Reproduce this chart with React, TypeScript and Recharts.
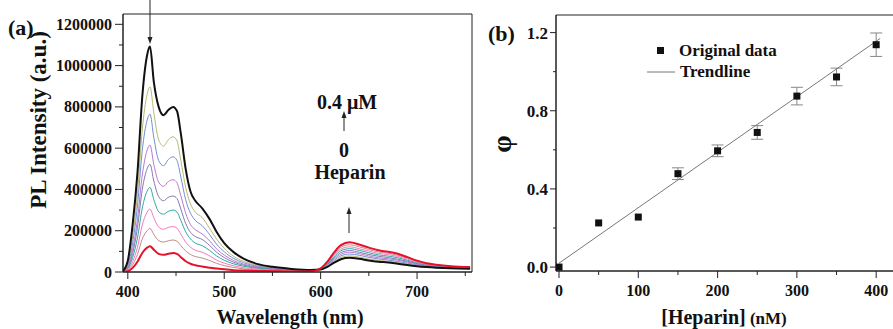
import React from "react";
import { LineChart, Line, XAxis, YAxis, ReferenceArea, ScatterChart, Scatter, ErrorBar } from "recharts";

const FONT = '"Liberation Serif", "Times New Roman", serif';

// ---- panel (a): PL spectra, intensity in units of 1000 a.u.
const wavelengths = [395, 400, 405, 410, 415, 420, 423, 427, 432, 437, 442, 447, 451, 455, 460, 465, 470, 477, 485, 492, 500, 510, 520, 535, 550, 570, 590, 600, 607, 614, 621, 630, 640, 650, 660, 670, 680, 690, 700, 710, 720, 735, 755];

const heparin0 = [5, 55, 230, 480, 850, 1050, 1092, 920, 800, 760, 785, 800, 780, 670, 500, 390, 345, 310, 255, 195, 140, 95, 65, 38, 25, 15, 10, 12, 25, 45, 62, 69, 64, 56, 50, 46, 40, 34, 28, 24, 21, 18, 16];
const heparin1 = [3, 40, 170, 380, 690, 860, 897, 770, 640, 610, 640, 655, 635, 540, 410, 330, 290, 265, 210, 160, 115, 75, 52, 32, 21, 13, 9, 12, 27, 50, 70, 78, 72, 63, 56, 52, 46, 38, 31, 26, 23, 19, 17];
const heparin2 = [2, 32, 140, 320, 590, 735, 765, 650, 540, 515, 545, 558, 540, 460, 350, 285, 250, 225, 180, 135, 98, 65, 45, 28, 18, 11, 8, 13, 30, 56, 78, 87, 81, 71, 63, 58, 51, 43, 35, 29, 25, 21, 18];
const heparin3 = [2, 25, 110, 255, 470, 590, 615, 520, 435, 415, 438, 447, 432, 370, 285, 230, 205, 185, 150, 112, 82, 55, 38, 24, 16, 10, 8, 14, 33, 62, 86, 96, 89, 78, 69, 64, 57, 48, 38, 31, 27, 22, 19];
const heparin4 = [1, 20, 90, 215, 400, 500, 522, 440, 365, 345, 362, 368, 356, 305, 235, 192, 172, 158, 128, 96, 70, 47, 33, 21, 14, 9, 7, 15, 36, 68, 94, 104, 96, 85, 76, 70, 62, 52, 41, 33, 28, 23, 20];
const heparin5 = [1, 15, 70, 165, 310, 392, 410, 350, 292, 280, 294, 300, 290, 250, 195, 160, 140, 128, 104, 78, 57, 39, 28, 18, 12, 8, 7, 16, 40, 75, 103, 113, 105, 93, 83, 77, 69, 57, 45, 36, 30, 25, 21];
const heparin6 = [1, 11, 50, 120, 228, 290, 305, 262, 218, 207, 216, 220, 212, 183, 145, 120, 105, 96, 78, 58, 43, 30, 21, 14, 9, 6, 6, 17, 43, 82, 111, 122, 113, 101, 90, 84, 75, 62, 48, 38, 32, 26, 22];
const heparin7 = [0, 7, 35, 85, 160, 200, 211, 182, 152, 145, 151, 155, 149, 128, 102, 85, 75, 68, 55, 42, 31, 22, 15, 10, 7, 5, 5, 17, 46, 88, 120, 132, 122, 109, 97, 91, 81, 67, 51, 40, 33, 27, 23];
const heparin8 = [0, 4, 20, 50, 92, 118, 125, 108, 88, 83, 88, 92, 88, 72, 52, 40, 33, 27, 21, 17, 13, 9, 7, 5, 4, 3, 4, 18, 50, 95, 130, 144, 133, 118, 105, 98, 88, 72, 55, 42, 35, 28, 24];

const spectra = [
  { key: "h1", values: heparin1, color: "#b8b870", width: 1 },
  { key: "h2", values: heparin2, color: "#6f8fd6", width: 1 },
  { key: "h3", values: heparin3, color: "#b979d2", width: 1 },
  { key: "h4", values: heparin4, color: "#8479ad", width: 1 },
  { key: "h5", values: heparin5, color: "#2fa9a0", width: 1 },
  { key: "h6", values: heparin6, color: "#f07cbf", width: 1 },
  { key: "h7", values: heparin7, color: "#c48a8a", width: 1 },
  { key: "h0", values: heparin0, color: "#111111", width: 2 },
  { key: "h8", values: heparin8, color: "#e8102a", width: 2 },
];

const spectrumRows = wavelengths.map((w, i) => {
  const row: Record<string, number> = { w };
  spectra.forEach((s) => (row[s.key] = s.values[i] * 1000));
  return row;
});

const wlTicks = [400, 450, 500, 550, 600, 650, 700, 750];
const intensityTicks = [0, 100000, 200000, 300000, 400000, 500000, 600000, 700000, 800000, 900000, 1000000, 1100000, 1200000];

// ---- panel (b): phi vs heparin
const heparinConc = [0, 50, 100, 150, 200, 250, 300, 350, 400];
const phiValues = [0, 0.226, 0.256, 0.478, 0.595, 0.689, 0.875, 0.973, 1.138];
const phiErrors = [0, 0, 0, 0.03, 0.03, 0.035, 0.045, 0.045, 0.06];
const trendConc = [0, 405];
const trendPhi = [0.02, 1.17];

const phiRows = heparinConc.map((x, i) => ({ x, y: phiValues[i], err: phiErrors[i] }));
const trendRows = trendConc.map((x, i) => ({ x, y: trendPhi[i] }));

const concTicks = [0, 50, 100, 150, 200, 250, 300, 350, 400];
const phiTicks = [0, 0.2, 0.4, 0.6, 0.8, 1.0, 1.2];

const AXIS = "#222";
const labelStyle = { fontFamily: FONT, fontWeight: 700, fill: "#111" } as const;

// custom ticks: tick marks point outward, minor ones shorter
function makeBottomTick(axisY: number, isMajor: (v: number) => boolean, fmt: (v: number) => string) {
  return (props: any) => {
    const { x, payload } = props;
    const major = isMajor(payload.value);
    return (
      <g>
        <line x1={x} x2={x} y1={axisY} y2={axisY + (major ? 7 : 4)} stroke={AXIS} strokeWidth={1} />
        {major && (
          <text x={x} y={axisY + 25} textAnchor="middle" fontSize={16} style={labelStyle}>
            {fmt(payload.value)}
          </text>
        )}
      </g>
    );
  };
}

function makeLeftTick(axisX: number, len: number, gap: number, fs: number, isMajor: (v: number) => boolean, fmt: (v: number) => string) {
  return (props: any) => {
    const { y, payload } = props;
    const major = isMajor(payload.value);
    return (
      <g>
        <line x1={axisX - (major ? len : len / 2)} x2={axisX} y1={y} y2={y} stroke={AXIS} strokeWidth={1} />
        {major && (
          <text x={axisX - gap} y={y} dy="0.35em" textAnchor="end" fontSize={fs} style={labelStyle}>
            {fmt(payload.value)}
          </text>
        )}
      </g>
    );
  };
}

const WlTick = makeBottomTick(272, (v) => v % 100 === 0, (v) => String(v));
const IntTick = makeLeftTick(123, 8, 11, 16, (v) => v % 200000 === 0, (v) => String(v));
const ConcTick = makeBottomTick(271, (v) => v % 100 === 0, (v) => String(v));
const PhiTick = makeLeftTick(76, 6, 8, 17, (v) => Math.round(v * 10) % 4 === 0, (v) => v.toFixed(1));

const Square = (props: any) => {
  const { cx, cy } = props;
  return <rect x={cx - 3.5} y={cy - 3.5} width={7} height={7} fill="#111" />;
};

function Arrow({ x, y1, y2 }: { x: number; y1: number; y2: number }) {
  // from y1 to y2, head at y2
  const dir = y2 > y1 ? 1 : -1;
  return (
    <g>
      <line x1={x} x2={x} y1={y1} y2={y2 - dir * 4} stroke="#222" strokeWidth={1} />
      <polygon points={`${x},${y2} ${x - 2.5},${y2 - dir * 7} ${x + 2.5},${y2 - dir * 7}`} fill="#222" />
    </g>
  );
}

export default function App() {
  return (
    <div style={{ position: "fixed", left: 0, top: 0, width: 893, height: 329, background: "#fff", overflow: "hidden" }}>
      <div style={{ position: "absolute", left: 0, top: 0 }}>
        <LineChart width={480} height={329} data={spectrumRows} margin={{ top: 14, right: 8, left: 0, bottom: 0 }}>
          <XAxis
            dataKey="w"
            type="number"
            domain={[395, 757]}
            ticks={wlTicks}
            allowDataOverflow
            height={57}
            tickLine={false}
            tickSize={0}
            tickMargin={0}
            stroke={AXIS}
            tick={WlTick}
            interval={0}
          />
          <YAxis
            type="number"
            domain={[0, 1250000]}
            ticks={intensityTicks}
            allowDataOverflow
            width={123}
            tickLine={false}
            tickSize={0}
            tickMargin={0}
            stroke={AXIS}
            tick={IntTick}
            interval={0}
          />
          <ReferenceArea x1={395} x2={757} y1={0} y2={1250000} fill="none" stroke={AXIS} strokeWidth={1} />
          {spectra.map((s) => (
            <Line
              key={s.key}
              dataKey={s.key}
              type="monotone"
              stroke={s.color}
              strokeWidth={s.width}
              dot={false}
              isAnimationActive={false}
            />
          ))}
        </LineChart>
      </div>

      <div style={{ position: "absolute", left: 480, top: 0 }}>
        <ScatterChart width={416} height={329} margin={{ top: 15, right: 0, left: 0, bottom: 0 }}>
          <XAxis
            dataKey="x"
            type="number"
            domain={[-3.8, 425]}
            ticks={concTicks}
            allowDataOverflow
            height={58}
            tickLine={false}
            tickSize={0}
            tickMargin={0}
            stroke={AXIS}
            tick={ConcTick}
            interval={0}
          />
          <YAxis
            dataKey="y"
            type="number"
            domain={[-0.02, 1.29]}
            ticks={phiTicks}
            allowDataOverflow
            width={76}
            tickLine={false}
            tickSize={0}
            tickMargin={0}
            stroke={AXIS}
            tick={PhiTick}
            interval={0}
          />
          <ReferenceArea x1={-3.8} x2={425} y1={-0.02} y2={1.29} fill="none" stroke={AXIS} strokeWidth={1} />
          <Scatter
            data={trendRows}
            line={{ stroke: "#777", strokeWidth: 1 }}
            shape={() => <g />}
            isAnimationActive={false}
          />
          <Scatter data={phiRows} shape={Square} isAnimationActive={false}>
            <ErrorBar dataKey="err" direction="y" width={6} stroke="#888" strokeWidth={1} isAnimationActive={false} />
          </Scatter>
        </ScatterChart>
      </div>

      <svg width={893} height={329} style={{ position: "absolute", left: 0, top: 0, pointerEvents: "none" }}>
        {/* panel (a) labels */}
        <text x={8} y={35} fontSize={22} style={labelStyle}>(a)</text>
        <text x={290} y={324} textAnchor="middle" fontSize={20} style={labelStyle}>Wavelength (nm)</text>
        <text x={0} y={0} transform="translate(46,120) rotate(-90)" textAnchor="middle" fontSize={23} style={labelStyle}>
          PL Intensity (a.u.)
        </text>
        <Arrow x={150} y1={0} y2={44} />
        <text x={347} y={109} textAnchor="middle" fontSize={20} style={labelStyle}>0.4 μM</text>
        <Arrow x={344} y1={131} y2={111} />
        <text x={344} y={157} textAnchor="middle" fontSize={20} style={labelStyle}>0</text>
        <text x={350} y={179} textAnchor="middle" fontSize={20} style={labelStyle}>Heparin</text>
        <Arrow x={349} y1={233} y2={207} />

        {/* panel (b) labels */}
        <text x={488} y={41} fontSize={22} style={labelStyle}>(b)</text>
        <text x={724} y={324} textAnchor="middle" style={labelStyle}>
          <tspan fontSize={20}>[Heparin]</tspan>
          <tspan fontSize={17}> (nM)</tspan>
        </text>
        <text x={0} y={0} transform="translate(511,144) rotate(-90)" textAnchor="middle" fontSize={28} style={labelStyle}>
          φ
        </text>
        <rect x={657} y={47} width={7} height={7} fill="#111" />
        <text x={679} y={56} fontSize={17} style={labelStyle}>Original data</text>
        <line x1={647} x2={675} y1={72} y2={72} stroke="#777" strokeWidth={1} />
        <text x={680} y={77} fontSize={17} style={labelStyle}>Trendline</text>
      </svg>
    </div>
  );
}
